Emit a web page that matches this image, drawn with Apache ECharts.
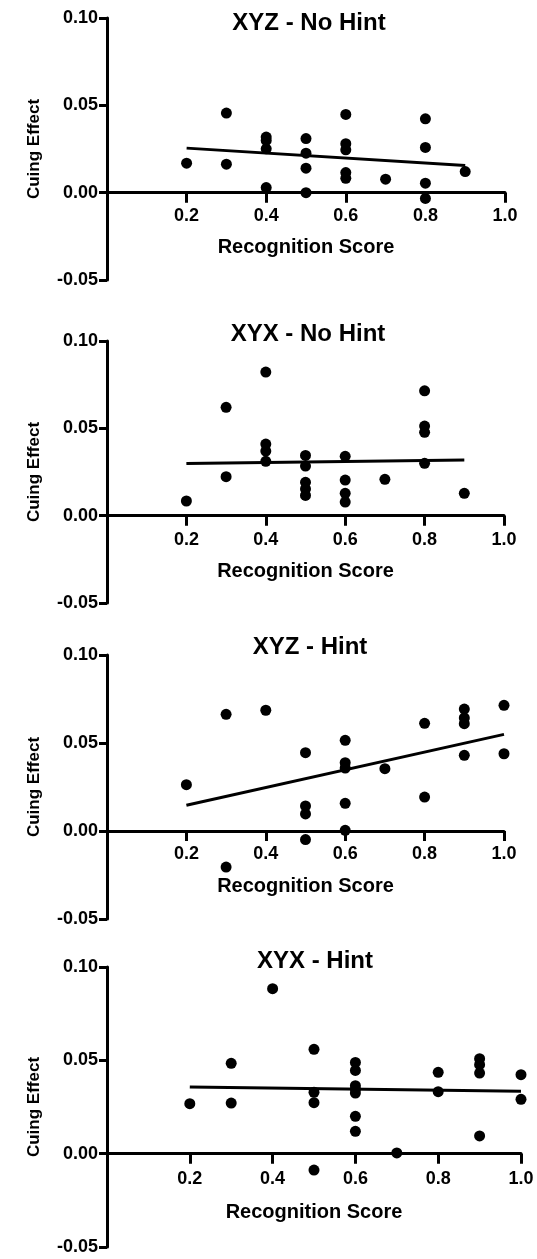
<!DOCTYPE html>
<html>
<head>
<meta charset="utf-8">
<script src="https://cdn.jsdelivr.net/npm/echarts@6/dist/echarts.min.js"></script>
<style>
html,body{margin:0;padding:0;background:#fff;}
#chart{width:537px;height:1259px;}
</style>
</head>
<body>
<div id="chart"></div>
<script>
// ---- Data ----
const panelTitles = ['XYZ - No Hint', 'XYX - No Hint', 'XYZ - Hint', 'XYX - Hint'];
const xAxisName = 'Recognition Score';
const yAxisName = 'Cuing Effect';

// Panel 1: XYZ - No Hint
const xyzNoHintX = [0.2, 0.3, 0.3, 0.4, 0.4, 0.4, 0.4, 0.5, 0.5, 0.5, 0.5, 0.6, 0.6, 0.6, 0.6, 0.6, 0.7, 0.8, 0.8, 0.8, 0.8, 0.9];
const xyzNoHintY = [0.0169, 0.0456, 0.0163, 0.0318, 0.0299, 0.0251, 0.0029, 0.0310, 0.0226, 0.0140, 0.0000, 0.0448, 0.0280, 0.0245, 0.0115, 0.0082, 0.0077, 0.0423, 0.0259, 0.0054, -0.0033, 0.0121];
const xyzNoHintFitX = [0.2, 0.9];
const xyzNoHintFitY = [0.0255, 0.0155];

// Panel 2: XYX - No Hint
const xyxNoHintX = [0.2, 0.3, 0.3, 0.4, 0.4, 0.4, 0.4, 0.5, 0.5, 0.5, 0.5, 0.5, 0.6, 0.6, 0.6, 0.6, 0.7, 0.8, 0.8, 0.8, 0.8, 0.9];
const xyxNoHintY = [0.0084, 0.0620, 0.0223, 0.0822, 0.0410, 0.0370, 0.0311, 0.0345, 0.0284, 0.0191, 0.0153, 0.0116, 0.0340, 0.0204, 0.0128, 0.0078, 0.0208, 0.0715, 0.0513, 0.0477, 0.0300, 0.0128];
const xyxNoHintFitX = [0.2, 0.9];
const xyxNoHintFitY = [0.0298, 0.0319];

// Panel 3: XYZ - Hint
const xyzHintX = [0.2, 0.3, 0.3, 0.4, 0.5, 0.5, 0.5, 0.5, 0.6, 0.6, 0.6, 0.6, 0.6, 0.7, 0.8, 0.8, 0.9, 0.9, 0.9, 0.9, 1.0, 1.0];
const xyzHintY = [0.0263, 0.0663, -0.0205, 0.0686, 0.0445, 0.0142, 0.0097, -0.0049, 0.0515, 0.0388, 0.0358, 0.0157, 0.0004, 0.0354, 0.0612, 0.0193, 0.0693, 0.0642, 0.0610, 0.0430, 0.0714, 0.0439];
const xyzHintFitX = [0.2, 1.0];
const xyzHintFitY = [0.0146, 0.0549];

// Panel 4: XYX - Hint
const xyxHintX = [0.2, 0.3, 0.3, 0.4, 0.5, 0.5, 0.5, 0.5, 0.6, 0.6, 0.6, 0.6, 0.6, 0.6, 0.6, 0.7, 0.8, 0.8, 0.9, 0.9, 0.9, 0.9, 1.0, 1.0];
const xyxHintY = [0.0268, 0.0484, 0.0271, 0.0884, 0.0559, 0.0329, 0.0273, -0.0088, 0.0489, 0.0446, 0.0364, 0.0345, 0.0325, 0.0200, 0.0120, 0.0004, 0.0436, 0.0332, 0.0509, 0.0477, 0.0432, 0.0095, 0.0423, 0.0291];
const xyxHintFitX = [0.2, 1.0];
const xyxHintFitY = [0.0357, 0.0334];

const xTickLabels = {0.2: '0.2', 0.4: '0.4', 0.6: '0.6', 0.8: '0.8', 1: '1.0'};
const yTickLabels = {'-0.05': '-0.05', '0': '0.00', '0.05': '0.05', '0.1': '0.10'};
const yMin = -0.05, yMax = 0.10;

// ---- Chart ----
const FONT = '"Liberation Sans", Arial, Helvetica, sans-serif';
const panels = [
  {x: xyzNoHintX, y: xyzNoHintY, fx: xyzNoHintFitX, fy: xyzNoHintFitY},
  {x: xyxNoHintX, y: xyxNoHintY, fx: xyxNoHintFitX, fy: xyxNoHintFitY},
  {x: xyzHintX, y: xyzHintY, fx: xyzHintFitX, fy: xyzHintFitY},
  {x: xyxHintX, y: xyxHintY, fx: xyxHintFitX, fy: xyxHintFitY}
];
const grids = [
  {left: 107, top: 18, width: 398, height: 262},
  {left: 107, top: 341, width: 397, height: 262},
  {left: 107, top: 655, width: 397, height: 264},
  {left: 107, top: 967, width: 414, height: 280}
];
const labelMargins = [14, 15, 14, 16];
const nameGaps = [45, 46, 45, 49];
const titlePos = [
  {x: 304, top: 6}, {x: 303, top: 317}, {x: 305, top: 630}, {x: 310, top: 944}
];

const zip = (a, b) => a.map((v, i) => [v, b[i]]);

const option = {
  backgroundColor: '#fff',
  animation: false,
  title: panelTitles.map((t, i) => ({
    text: t, left: titlePos[i].x, top: titlePos[i].top, textAlign: 'center',
    textStyle: {fontFamily: FONT, fontWeight: 'bold', fontSize: 24, color: '#000'}
  })),
  grid: grids.map(g => Object.assign({containLabel: false}, g)),
  xAxis: grids.map((g, i) => ({
    type: 'value', gridIndex: i, min: 0, max: 1.0, interval: 0.2,
    position: 'bottom',
    // move the whole axis (line, ticks, labels, name) up to y = 0
    offset: -g.height * (0 - yMin) / (yMax - yMin),
    name: xAxisName, nameLocation: 'middle', nameGap: nameGaps[i],
    nameTextStyle: {fontFamily: FONT, fontWeight: 'bold', fontSize: 20, color: '#000'},
    axisLine: {show: true, onZero: false, lineStyle: {color: '#000', width: 3}},
    axisTick: {show: true, inside: false, length: 10, lineStyle: {color: '#000', width: 3}},
    axisLabel: {
      margin: labelMargins[i], fontFamily: FONT, fontWeight: 'bold', fontSize: 18, color: '#000',
      formatter: v => xTickLabels[Math.round(v * 10) / 10] || ''
    },
    splitLine: {show: false}
  })),
  yAxis: grids.map((g, i) => ({
    type: 'value', gridIndex: i, min: yMin, max: yMax, interval: 0.05,
    name: yAxisName, nameLocation: 'middle', nameGap: 64, nameRotate: 90,
    nameTextStyle: {fontFamily: FONT, fontWeight: 'bold', fontSize: 17, color: '#000'},
    axisLine: {show: true, onZero: false, lineStyle: {color: '#000', width: 3}},
    axisTick: {show: true, inside: false, length: 8, lineStyle: {color: '#000', width: 3}},
    axisLabel: {
      margin: 9, fontFamily: FONT, fontWeight: 'bold', fontSize: 18, color: '#000',
      formatter: v => yTickLabels[String(Math.round(v * 100) / 100)] || ''
    },
    splitLine: {show: false}
  })),
  series: panels.flatMap((p, i) => [
    {
      type: 'scatter', xAxisIndex: i, yAxisIndex: i,
      data: zip(p.x, p.y), symbol: 'circle', symbolSize: 11,
      itemStyle: {color: '#000', opacity: 1}, z: 3
    },
    {
      type: 'line', xAxisIndex: i, yAxisIndex: i,
      data: zip(p.fx, p.fy), symbol: 'none',
      lineStyle: {color: '#000', width: 3}, z: 2
    }
  ])
};

const chart = echarts.init(document.getElementById('chart'), null, {renderer: 'canvas'});
chart.setOption(option);
</script>
</body>
</html>
